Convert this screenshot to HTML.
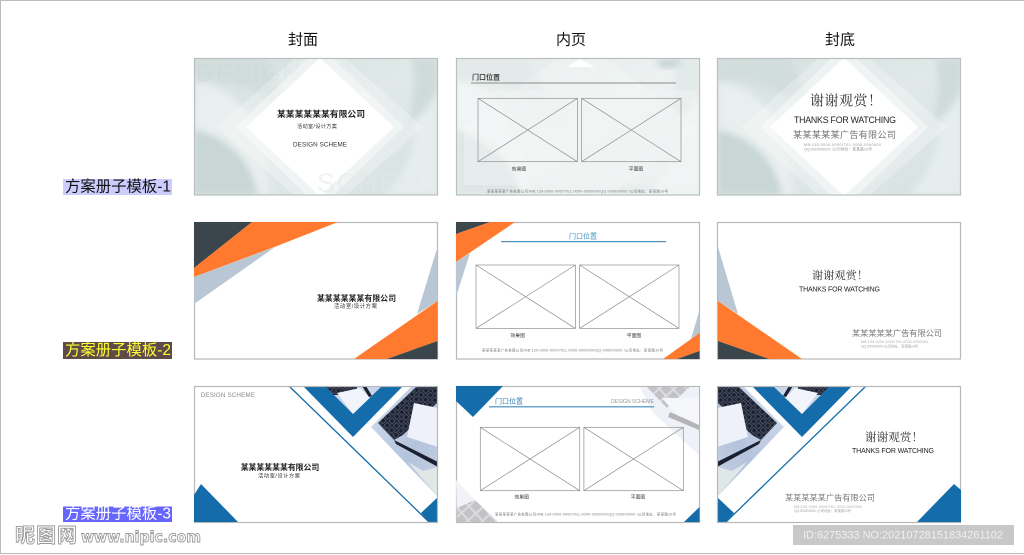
<!DOCTYPE html>
<html lang="zh">
<head>
<meta charset="utf-8">
<style>
html,body{margin:0;padding:0;background:#fff;width:1024px;height:555px;overflow:hidden}
svg{display:block}
text{font-family:"Liberation Sans","Noto Sans CJK SC",sans-serif;dominant-baseline:central}
.s{font-family:"Liberation Serif","Noto Serif CJK SC",serif}
.b{font-weight:700}
.x{fill:none;stroke:#8f8f8f;stroke-width:.7}
.d{font-family:"DejaVu Sans",sans-serif}
</style>
</head>
<body>
<svg width="1024" height="555" viewBox="0 0 1024 555" xmlns="http://www.w3.org/2000/svg">
<defs>
  <filter id="bl" x="-20%" y="-20%" width="140%" height="140%"><feGaussianBlur stdDeviation="3.5"/></filter>
  <clipPath id="c11"><rect x="194" y="58" width="244" height="137"/></clipPath>
  <clipPath id="c12"><rect x="456" y="58" width="244" height="137"/></clipPath>
  <clipPath id="c13"><rect x="717" y="58" width="244" height="137"/></clipPath>
  <clipPath id="c31"><rect x="194" y="386" width="244" height="136"/></clipPath>
  <clipPath id="c33"><rect x="717" y="386" width="244" height="136"/></clipPath>
  <clipPath id="cd"><polygon points="371,427 412,386 438,386 438,497"/></clipPath>
  <clipPath id="cv"><polygon points="325,386 382,386 353,414"/></clipPath>
  <linearGradient id="g1" x1="0" y1="0" x2="1" y2="1">
    <stop offset="0" stop-color="#d3dfde"/><stop offset=".5" stop-color="#e0e9e8"/><stop offset="1" stop-color="#d6e1e0"/>
  </linearGradient>
  <linearGradient id="g3" x1="0" y1="0" x2="1" y2="1">
    <stop offset="0" stop-color="#d3ddef"/><stop offset=".6" stop-color="#b4c3dc"/><stop offset="1" stop-color="#c6d2e4"/>
  </linearGradient>
  <pattern id="kb" width="6.500" height="6.500" patternUnits="userSpaceOnUse" patternTransform="rotate(-42)">
    <rect width="6.500" height="6.500" fill="#1a2030"/>
    <rect x="1" y="1" width="4.500" height="4.500" fill="none" stroke="#7f8698" stroke-width=".45"/>
  </pattern>
  <pattern id="kg" width="10" height="10" patternUnits="userSpaceOnUse" patternTransform="rotate(-42)">
    <rect width="10" height="10" fill="#dcdce0"/>
    <rect x="1" y="1" width="8" height="8" fill="#c2c2c7"/>
  </pattern>

  <g id="bg">
    <rect x="194" y="58" width="244" height="137" fill="url(#g1)"/>
    <g filter="url(#bl)">
      <path d="M194 82 C235 85 262 115 270 195 L194 195 Z" fill="#e8efee"/>
      <path d="M194 130 C225 135 252 160 258 195 L194 195 Z" fill="#c8d6d5"/>
      <path d="M194 58 L265 58 L300 125 Q240 70 194 82 Z" fill="#d1dddc"/>
      <path d="M385 195 C420 160 425 110 405 58 L438 58 L438 195 Z" fill="#e6eeed"/>
      <path d="M410 58 C416 85 414 105 408 125 C425 112 438 100 438 80 L438 58 Z" fill="#cfdbda"/>
    </g>
  </g>
  <g id="dia">
    <polygon points="320,36 423,127 320,218 217,127" fill="#fff" opacity=".28"/>
    <polygon points="320,46 404,127 320,208 236,127" fill="#fff" opacity=".42"/>
    <polygon points="320,58 394,127 320,196 246,127" fill="#fff"/>
  </g>
  <g id="wire">
    <rect class="x" x="0" y="0" width="99.400" height="63.400"/>
    <path class="x" d="M0 0 L99.400 63.400 M99.400 0 L0 63.400"/>
    <rect class="x" x="103.600" y="0" width="99.400" height="63.400"/>
    <path class="x" d="M103.600 0 L203 63.400 M203 0 L103.600 63.400"/>
  </g>
  <g id="blue">
    <polygon points="371,427 412,386 438,386 438,497" fill="url(#g3)"/>
    <g clip-path="url(#cd)">
      <polygon points="408,462 423,471 438,467 438,497" fill="#dfe8e6"/>
      <polygon points="378,423 417,386 438,386 438,402 403,435 394,440" fill="url(#kb)"/>
      <polygon points="414,403 438,408 438,447 407,437" fill="#eef1f9"/>
      <polygon points="394,440 438,462 438,467 396,444" fill="#1a2030"/>
    </g>
    <polygon points="303,386 403,386 353,437" fill="#146caa"/>
    <polygon points="325,386 382,386 353,414" fill="#c9d5e8"/>
    <g clip-path="url(#cv)">
      <rect x="325" y="386" width="32" height="9" fill="url(#kb)"/>
      <polygon points="337,393 360,388 370,398 353,414" fill="#f1f4fa"/>
      <polygon points="362,386 366,386 372,396 369,397" fill="#1a2030"/>
    </g>
    <line x1="289" y1="386" x2="429" y2="522" stroke="#146caa" stroke-width="1.300"/>
    <polygon points="438,497 438,522 429,522 421,513" fill="#146caa"/>
  </g>
</defs>

<path d="M.5 554 L.5 .5 L1024 .5 M0 553.500 L1024 553.500" fill="none" stroke="#bbb"/>

<!-- headers -->
<text x="303" y="40" text-anchor="middle" font-size="15" fill="#111">封面</text>
<text x="571" y="40" text-anchor="middle" font-size="15" fill="#111">内页</text>
<text x="840" y="40" text-anchor="middle" font-size="15" fill="#111">封底</text>

<!-- row labels -->
<rect x="63" y="179" width="109" height="16" fill="#ccf"/>
<text x="65" y="187" font-size="15.500" fill="#111" textLength="106" lengthAdjust="spacingAndGlyphs">方案册子模板-1</text>
<rect x="63" y="342" width="109" height="17" fill="#5f4a4a"/>
<text x="65" y="350.500" font-size="15.500" fill="#ff3" textLength="106" lengthAdjust="spacingAndGlyphs">方案册子模板-2</text>
<rect x="63" y="506.500" width="109" height="15.500" fill="#66f"/>
<text x="65" y="514" font-size="15.500" fill="#fff" textLength="106" lengthAdjust="spacingAndGlyphs">方案册子模板-3</text>

<!-- Panel 1-1 -->
<g clip-path="url(#c11)">
  <use href="#bg"/>
  <text x="196" y="74" font-size="24" fill="#c9d6d5" opacity=".35" textLength="104">DESIGN</text>
  <use href="#dia"/>
  <text x="317" y="183" font-size="27" fill="#e3eaea" opacity=".55" textLength="124">SCHEME</text>
</g>
<rect x="194.500" y="58.500" width="243" height="136.500" fill="none" stroke="#b8c0bf" stroke-width="1.200"/>
<text class="b" x="277" y="114" font-size="8.800" fill="#222" textLength="88">某某某某某某有限公司</text>
<text x="297" y="127" font-size="5.200" fill="#333" textLength="40">活动室/设计方案</text>
<text x="293" y="145" font-size="6.300" fill="#333" textLength="54">DESIGN SCHEME</text>

<!-- Panel 1-2 -->
<g clip-path="url(#c12)">
  <g transform="translate(262,0)"><use href="#bg"/></g>
  <rect x="456" y="58" width="244" height="137" fill="#fff" opacity=".4"/>
  <polygon points="656,59 683,59 675,68 660,68" fill="#c6d3d3" filter="url(#bl)"/>
  <polygon points="582,40 700,130 582,215 460,130" fill="#fff" opacity=".22"/>
  <polygon points="582,70 670,130 582,190 500,130" fill="#f3f4f4" opacity=".5"/>
  <rect x="464" y="90" width="232" height="95" fill="#f2f4f4" opacity=".45"/>
  <polygon points="580,59 595,67 567,67" fill="#fff"/>
</g>
<rect x="456.500" y="58.500" width="243" height="136.500" fill="none" stroke="#b8c0bf" stroke-width="1.200"/>
<text class="b" x="472" y="78" font-size="7" fill="#444" textLength="28">门口位置</text>
<line x1="471" y1="83" x2="676" y2="83" stroke="#a0a0a0" stroke-width="1.200"/>
<use href="#wire" transform="translate(478,98.300)"/>
<text x="519" y="170" text-anchor="middle" font-size="4.800" fill="#333">效果图</text>
<text x="636" y="170" text-anchor="middle" font-size="4.800" fill="#333">平面图</text>
<text x="487" y="191.300" font-size="3.500" fill="#777" textLength="181">某某某某某广告有限公司/MB:139-0000-0000/TEL:0000-0000000/QQ:000000000 /公司地址：某某路10号</text>

<!-- Panel 1-3 -->
<g clip-path="url(#c13)">
  <g transform="translate(524,0)"><use href="#bg"/></g>
  <g transform="translate(524,0)"><use href="#dia"/></g>
</g>
<rect x="717.500" y="58.500" width="243" height="136.500" fill="none" stroke="#b8c0bf" stroke-width="1.200"/>
<text class="s" x="810" y="102" font-size="14" fill="#333" textLength="72">谢谢观赏！</text>
<text x="794" y="120" font-size="8.800" fill="#222" textLength="102">THANKS FOR WATCHING</text>
<text x="793" y="135" font-size="9.200" fill="#777" textLength="103">某某某某某广告有限公司</text>
<text x="804" y="145" font-size="3.800" fill="#999" textLength="77">MB:139-0000-0000/TEL:0000-0000000</text>
<text x="804" y="149.500" font-size="3.800" fill="#999" textLength="68">QQ:000000000 /公司地址：某某路10号</text>

<!-- Panel 2-1 -->
<rect x="194.500" y="222.500" width="243" height="136.500" fill="#fff" stroke="#b8b8b8" stroke-width="1.200"/>
<polygon points="194,222 252,222 194,268" fill="#3a464c"/>
<polygon points="252,222 338,222 277,246 194,277 194,268" fill="#ff7a2e"/>
<polygon points="194,277 275,247 194,304" fill="#b9c7d4"/>
<polygon points="437.500,247 437.500,301 417,314" fill="#b9c7d4"/>
<polygon points="437.500,301 437.500,341 387,359 354,359" fill="#ff7a2e"/>
<polygon points="437.500,341 437.500,359 387,359" fill="#3a464c"/>
<text class="b" x="317" y="298.500" font-size="7.800" fill="#222" textLength="79">某某某某某某有限公司</text>
<text x="334" y="307" font-size="5.400" fill="#333" textLength="43">活动室/设计方案</text>

<!-- Panel 2-2 -->
<rect x="456.500" y="222.500" width="243" height="136.500" fill="#fff" stroke="#b8b8b8" stroke-width="1.200"/>
<polygon points="456,222 490,222 456,234" fill="#3a464c"/>
<polygon points="490,222 515,222 456,262 456,234" fill="#ff7a2e"/>
<polygon points="456,262 470,253 456,297" fill="#b9c7d4"/>
<polygon points="699.500,310 699.500,333 691,339" fill="#b9c7d4"/>
<polygon points="699.500,333 699.500,351 677,359 663,359" fill="#ff7a2e"/>
<polygon points="699.500,351 699.500,359 677,359" fill="#3a464c"/>
<text x="569" y="237" font-size="7" fill="#3d8fc4" textLength="28">门口位置</text>
<rect x="501" y="241" width="165" height="1.200" fill="#4a90c2"/>
<g transform="translate(476,265)"><use href="#wire"/></g>
<text x="517.700" y="336.500" text-anchor="middle" font-size="4.800" fill="#333">效果图</text>
<text x="634" y="336.500" text-anchor="middle" font-size="4.800" fill="#333">平面图</text>
<text x="482" y="350.700" font-size="3.500" fill="#777" textLength="181">某某某某某广告有限公司/MB:139-0000-0000/TEL:0000-0000000/QQ:000000000 /公司地址：某某路10号</text>

<!-- Panel 2-3 -->
<rect x="717.500" y="222.500" width="243" height="136.500" fill="#fff" stroke="#b8b8b8" stroke-width="1.200"/>
<polygon points="718,247 738,314 718,301" fill="#b9c7d4"/>
<polygon points="718,301 802,359 769,359 718,341" fill="#ff7a2e"/>
<polygon points="718,341 769,359 718,359" fill="#3a464c"/>
<text class="s" x="812" y="276" font-size="11" fill="#333" textLength="56">谢谢观赏！</text>
<text x="799" y="290" font-size="7" fill="#222" textLength="81">THANKS FOR WATCHING</text>
<text x="852" y="333.500" font-size="8.200" fill="#777" textLength="90">某某某某某广告有限公司</text>
<text x="861" y="342" font-size="3.500" fill="#aaa" textLength="67">MB:139-0000-0000/TEL:0000-0000000</text>
<text x="861" y="346.500" font-size="3.500" fill="#aaa" textLength="57">QQ:000000000 /公司地址：某某路10号</text>

<!-- Panel 3-1 -->
<rect x="194.500" y="386.500" width="243" height="136" fill="#fff"/>
<g clip-path="url(#c31)"><use href="#blue"/></g>
<rect x="194.500" y="386.500" width="243" height="136" fill="none" stroke="#b8b8b8" stroke-width="1.200"/>
<polygon points="194,495 201,484 238,522 194,522" fill="#146caa"/>
<text x="200.700" y="395.700" font-size="6.300" fill="#888" textLength="54.300">DESIGN SCHEME</text>
<text class="b" x="240.700" y="467.700" font-size="7.900" fill="#222" textLength="78.600">某某某某某某有限公司</text>
<text x="258" y="476.700" font-size="5.300" fill="#333" textLength="42">活动室/设计方案</text>

<!-- Panel 3-2 -->
<rect x="456.500" y="386.500" width="243" height="136" fill="#fff" stroke="#b8b8b8" stroke-width="1.200"/>
<polygon points="640,387 699,387 699,455 653,413" fill="#eef1f7"/>
<polygon points="647,387 690,387 667,408" fill="url(#kg)"/>
<polygon points="662,398 699,398 699,425 674,412" fill="#f6f7fa"/>
<polygon points="670,412 699,425 699,430 668,417" fill="#b5b5b8"/>
<polygon points="456,480 475,500 498,522 457,522" fill="#f1f3f6"/>
<polygon points="457,508 475,500 498,522 457,522" fill="url(#kg)"/>
<polygon points="456,386 503,386 473,417 456,401" fill="#146caa"/>
<polygon points="699.500,507 699.500,522 684,522" fill="#146caa"/>
<text x="495" y="402" font-size="7" fill="#2f80bb" textLength="28">门口位置</text>
<text x="611" y="402" font-size="5.300" fill="#999" textLength="43">DESIGN SCHEME</text>
<rect x="489" y="406.200" width="165" height="1.200" fill="#4a90c2"/>
<g transform="translate(480.300,427.300)"><use href="#wire"/></g>
<text x="521.700" y="498" text-anchor="middle" font-size="4.800" fill="#333">效果图</text>
<text x="638" y="498" text-anchor="middle" font-size="4.800" fill="#333">平面图</text>
<text x="495" y="514.500" font-size="3.500" fill="#777" textLength="181">某某某某某广告有限公司/MB:139-0000-0000/TEL:0000-0000000/QQ:000000000 /公司地址：某某路10号</text>

<!-- Panel 3-3 -->
<rect x="717.500" y="386.500" width="243" height="136" fill="#fff"/>
<g clip-path="url(#c33)"><g transform="translate(1155,0) scale(-1,1)"><use href="#blue"/></g></g>
<rect x="717.500" y="386.500" width="243" height="136" fill="none" stroke="#b8b8b8" stroke-width="1.200"/>
<polygon points="917,522 954,484 961,490 961,522" fill="#146caa"/>
<text class="s" x="865" y="438" font-size="11.500" fill="#333" textLength="58">谢谢观赏！</text>
<text x="852" y="451.500" font-size="7" fill="#222" textLength="82">THANKS FOR WATCHING</text>
<text x="785" y="498" font-size="8.200" fill="#777" textLength="90">某某某某某广告有限公司</text>
<text x="794" y="507" font-size="3.500" fill="#aaa" textLength="68">MB:139-0000-0000/TEL:0000-0000000</text>
<text x="794" y="511" font-size="3.500" fill="#aaa" textLength="57">QQ:000000000 /公司地址：某某路10号</text>

<!-- Watermarks -->
<text class="b" x="15" y="536" font-size="20" fill="#fff" stroke="#999" stroke-width=".9" textLength="62">昵图网</text>
<text class="b d" x="81" y="537" font-size="15" fill="#fff" stroke="#999" stroke-width=".9" textLength="120" lengthAdjust="spacingAndGlyphs">www.nipic.com</text>
<rect x="793" y="525" width="221" height="20" fill="#c8c8c8"/>
<text x="803" y="535.500" font-size="11" fill="#f0f0f0" textLength="200">ID:6275333 NO:20210728151834261102</text>
</svg>
</body>
</html>
